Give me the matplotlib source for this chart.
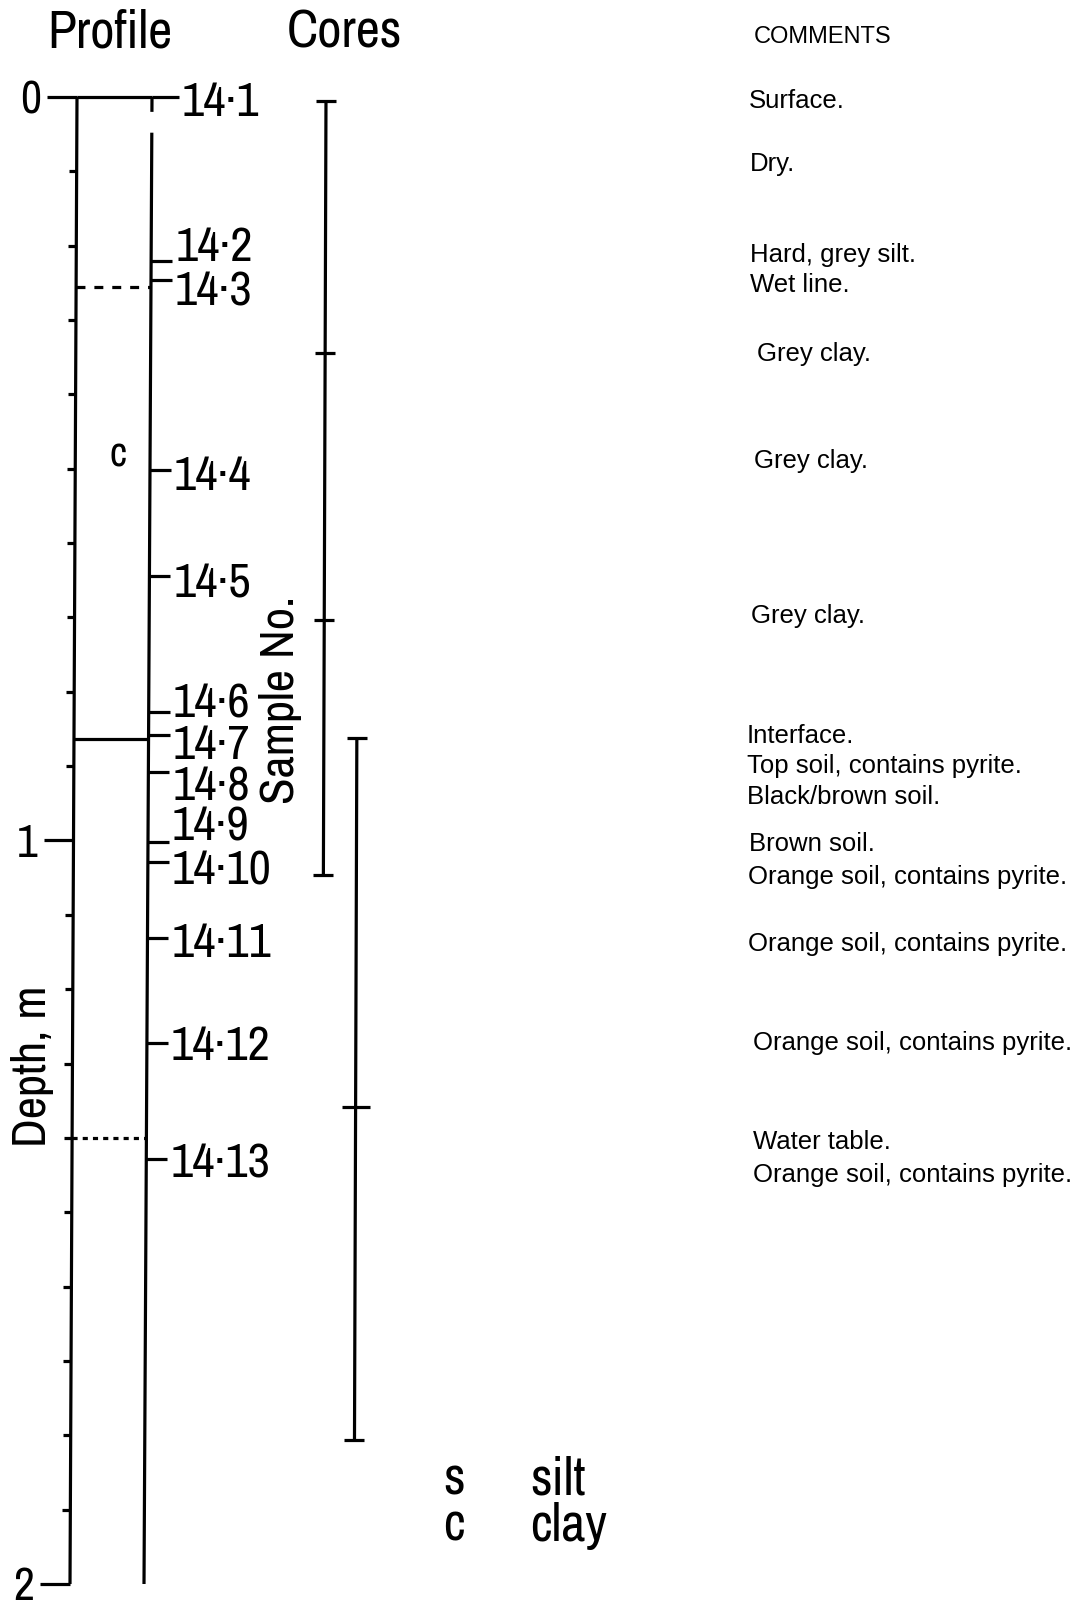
import matplotlib
matplotlib.use('Agg')
import matplotlib.pyplot as plt
from matplotlib import font_manager
from matplotlib.font_manager import FontProperties
import numpy as np

# sample numbers and the depth (m) of their marks on the profile
sample_ids = ['14·1', '14·2', '14·3', '14·4', '14·5', '14·6', '14·7',
              '14·8', '14·9', '14·10', '14·11', '14·12', '14·13']
sample_depths = [0.0, 0.22, 0.246, 0.502, 0.644, 0.827, 0.858,
                 0.908, 1.002, 1.029, 1.131, 1.272, 1.428]

# layer boundaries in the profile (m)
wet_line_depth = 0.256
interface_depth = 0.863
water_table_depth = 1.400
profile_letters = ['c']
profile_letter_depths = [0.471]

# cores: top, section joins, bottom (m)
core1_depths = [0.005, 0.344, 0.704, 1.046]
core2_depths = [0.862, 1.359, 1.806]

comments = ['Surface.', 'Dry.', 'Hard, grey silt.', 'Wet line.',
            'Grey clay.', 'Grey clay.', 'Grey clay.', 'Interface.',
            'Top soil, contains pyrite.', 'Black/brown soil.', 'Brown soil.',
            'Orange soil, contains pyrite.', 'Orange soil, contains pyrite.',
            'Orange soil, contains pyrite.', 'Water table.',
            'Orange soil, contains pyrite.']
comment_depths = [0.003, 0.087, 0.209, 0.250, 0.343, 0.487, 0.695, 0.856,
                  0.897, 0.938, 1.002, 1.046, 1.136, 1.270, 1.403, 1.447]

legend_keys = ['s', 'c']
legend_names = ['silt', 'clay']

depth_major = [0, 1, 2]

# page layout: pixels from the top for depth 0 and pixels per metre
TOP_PX = 97
PX_PER_M = 743.5
W, H = 1081, 1603
LW = 2.3
TYPE = ['Liberation Sans', 'DejaVu Sans']


def _weight(f):
    w = f.weight
    if isinstance(w, str):
        w = {'normal': 400, 'regular': 400, 'book': 400, 'light': 300,
             'extra light': 200, 'medium': 500}.get(w.lower(), 700)
    return w


def narrow_font():
    # the stencil lettering is tall, narrow and fairly thin: look for a
    # narrow/condensed face, lighter weights first
    fonts = [f for f in font_manager.fontManager.ttflist
             if f.style == 'normal' and 250 <= _weight(f) <= 450]
    fonts.sort(key=lambda f: abs(_weight(f) - 300))
    for key in ('Narrow', 'Condensed'):
        for f in fonts:
            if key in f.name:
                return f.fname
    for f in fonts:
        if f.stretch in ('condensed', 'semi-condensed', 'extra-condensed'):
            return f.fname
    return None


NARROW = narrow_font()
SCALE = 1.0 if NARROW else 0.8


def lettering(size):
    s = size * SCALE
    if NARROW:
        return FontProperties(fname=NARROW, size=s)
    return FontProperties(family='DejaVu Sans', size=s)


def px(y):
    """page pixel row -> depth"""
    return (y - TOP_PX) / PX_PER_M


def depth_x(x0, d, lean):
    # the hand-drawn verticals lean slightly to the left going down
    return x0 - lean * d


def label(ax, x, d, s, fp, ha='left', dy_px=0.0):
    # place text so its cap height is centred on depth d
    ax.annotate(s, (x, d), xytext=(0, -0.358 * fp.get_size() - dy_px * 0.72),
                textcoords='offset points', ha=ha, va='baseline',
                fontproperties=fp, color='black')


fig = plt.figure(figsize=(W / 100, H / 100), dpi=100)
ax = fig.add_axes([0, 0, 1, 1])
ax.set_xlim(0, W)
ax.set_ylim(px(H), px(0))
ax.axis('off')

line_kw = dict(color='black', lw=LW, solid_capstyle='butt')
big = lettering(35)

# depth axis
ax_x0, ax_lean = 77, 3.5
ax.plot([depth_x(ax_x0, 0, ax_lean), depth_x(ax_x0, 2, ax_lean)], [0, 2], **line_kw)
for d in np.arange(0.1, 2.0, 0.1):
    if abs(d - 1) < 1e-6:
        continue
    x = depth_x(ax_x0, d, ax_lean)
    ax.plot([x - 8, x], [d, d], **line_kw)
for d in depth_major:
    x = depth_x(ax_x0, d, ax_lean)
    ax.plot([x - 30, x], [d, d], **line_kw)
    label(ax, x - 36, d, str(d), lettering(33), ha='right')

# right edge of the profile column
rx0, r_lean = 152, 4
ax.plot([rx0, depth_x(rx0, 0.02, r_lean)], [0, 0.02], **line_kw)
ax.plot([depth_x(rx0, 0.048, r_lean), depth_x(rx0, 2.0, r_lean)], [0.048, 2.0], **line_kw)

# layer boundaries
ax.plot([ax_x0, rx0], [0, 0], **line_kw)
ax.plot([depth_x(ax_x0, wet_line_depth, ax_lean), depth_x(rx0, wet_line_depth, r_lean)],
        [wet_line_depth] * 2, color='black', lw=LW, dashes=(2.8, 2.8))
ax.plot([depth_x(ax_x0, interface_depth, ax_lean), depth_x(rx0, interface_depth, r_lean)],
        [interface_depth] * 2, **line_kw)
ax.plot([depth_x(ax_x0, water_table_depth, ax_lean), depth_x(rx0, water_table_depth, r_lean)],
        [water_table_depth] * 2, color='black', lw=LW, dashes=(1.6, 1.6))
for s, d in zip(profile_letters, profile_letter_depths):
    label(ax, 118, d, s, lettering(30), ha='center', dy_px=4)

# sample marks and numbers
label_shift = [2, -17, 8, 2, 4, -12, 7, 11, -19, 5, 2, 0, 1]
for i, (s, d) in enumerate(zip(sample_ids, sample_depths)):
    x = depth_x(rx0, d, r_lean)
    lx = x + (30 if i == 0 else 24)
    ax.plot([x, lx - 3], [d, d], **line_kw)
    label(ax, lx, d, s, big, dy_px=label_shift[i])

ax.text(280, px(700), 'Sample No.', rotation=90, ha='center', va='center',
        fontproperties=big)
ax.text(32, px(1066), 'Depth, m', rotation=90, ha='center', va='center',
        fontproperties=big)

# cores
for depths, cx0, tick_half in [(core1_depths, 326, 10), (core2_depths, 359, 14)]:
    xs = [depth_x(cx0, d, 2.5) for d in depths]
    ax.plot([xs[0], xs[-1]], [depths[0], depths[-1]], **line_kw)
    for j, (x, d) in enumerate(zip(xs, depths)):
        half = 10 if j in (0, len(depths) - 1) else tick_half
        ax.plot([x - half, x + half], [d, d], **line_kw)

# headings
head = lettering(38)
ax.text(47, px(47), 'Profile', ha='left', va='baseline', fontproperties=head)
ax.text(287, px(47), 'Cores', ha='left', va='baseline', fontproperties=head)
ax.text(754, px(43), 'COMMENTS', ha='left', va='baseline', fontsize=17, family=TYPE)

# comments
comment_x = [749, 750, 750, 750, 757, 754, 751, 747, 747, 747, 749, 748, 748, 753, 753, 753]
for s, d, x in zip(comments, comment_depths, comment_x):
    ax.annotate(s, (x, d), xytext=(0, -0.358 * 18.5), textcoords='offset points',
                ha='left', va='baseline', fontsize=18.5, family=TYPE)

# key to the profile letters
for i, (k, n) in enumerate(zip(legend_keys, legend_names)):
    base = px(1495 + 46 * i)
    ax.text(443, base, k, ha='left', va='baseline', fontproperties=head)
    ax.text(530, base, n, ha='left', va='baseline', fontproperties=head)

fig.savefig('out.png', dpi=100, facecolor='white')
